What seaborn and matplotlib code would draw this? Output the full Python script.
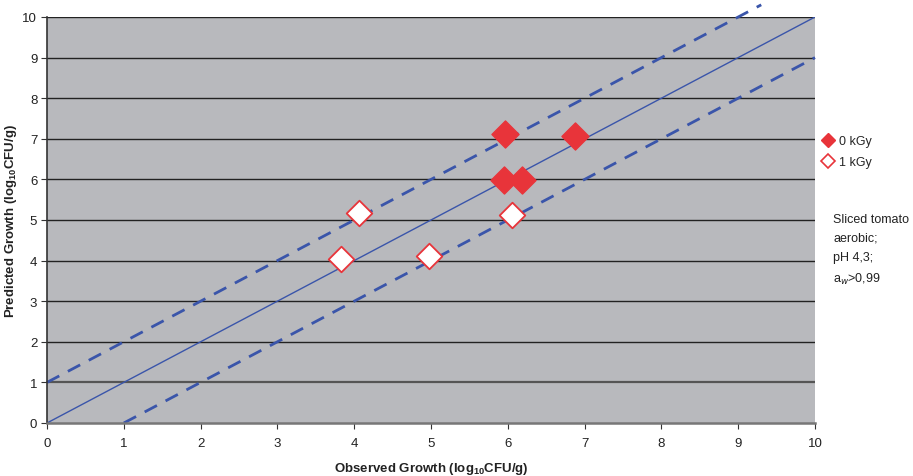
import matplotlib
matplotlib.use("Agg")
import matplotlib.pyplot as plt
import seaborn as sns
import pandas as pd
import numpy as np

# Data
obs_0kGy = [5.96, 5.95, 6.19, 6.87]
pred_0kGy = [7.12, 5.99, 5.99, 7.08]
obs_1kGy = [4.06, 3.83, 4.98, 6.05]
pred_1kGy = [5.17, 4.04, 4.12, 5.13]
line_x = [0, 10]
line_y = [0, 10]
upper_x = [0, 9.3]
upper_y = [1, 10.3]
lower_x = [1, 10]
lower_y = [0, 9]
ticks = list(range(0, 11))

sns.set_theme(style="white")
plt.rcParams['font.family'] = ['Liberation Sans', 'DejaVu Sans']
plt.rcParams['mathtext.fontset'] = 'custom'
plt.rcParams['mathtext.rm'] = 'Liberation Sans'
plt.rcParams['mathtext.bf'] = 'Liberation Sans:bold'

fig = plt.figure(figsize=(9.13, 4.77), dpi=100)
ax = fig.add_axes([47/913, 1-424/477, (815-47)/913, (424-18)/477])
ax.set_facecolor('#b8b9bd')

blue = '#3a55aa'
red = '#e8343a'

for yv in ticks[1:]:
    ax.axhline(yv, color='#222222' if yv != 1 else '#555555', lw=1.0 if yv != 1 else 1.6, zorder=1)

df_line = pd.DataFrame({'x': line_x, 'y': line_y})
sns.lineplot(data=df_line, x='x', y='y', ax=ax, color=blue, lw=1.0, zorder=2)
df_up = pd.DataFrame({'x': upper_x, 'y': upper_y})
sns.lineplot(data=df_up, x='x', y='y', ax=ax, color=blue, lw=2.0, zorder=2)
df_lo = pd.DataFrame({'x': lower_x, 'y': lower_y})
sns.lineplot(data=df_lo, x='x', y='y', ax=ax, color=blue, lw=2.0, zorder=2)
lines = ax.get_lines()
for ln in lines[-2:]:
    ln.set_dashes([5, 3.5])
    ln.set_clip_on(False)

df0 = pd.DataFrame({'x': obs_0kGy, 'y': pred_0kGy})
df1 = pd.DataFrame({'x': obs_1kGy, 'y': pred_1kGy})
sns.scatterplot(data=df0, x='x', y='y', ax=ax, marker='D', s=190, color=red,
                edgecolor=red, linewidth=1, zorder=4, clip_on=False)
sns.scatterplot(data=df1, x='x', y='y', ax=ax, marker='D', s=170, color='white',
                edgecolor=red, linewidth=1.3, zorder=4, clip_on=False)

ax.set_xlim(0, 10)
ax.set_ylim(0, 10)
ax.set_xticks(ticks)
ax.set_yticks(ticks)
ax.tick_params(axis='both', which='both', direction='out', length=4, width=0.8,
               colors='#333333', labelsize=9.5, bottom=True, left=True, pad=3)
ax.tick_params(axis='x', pad=6)
for lab in ax.get_xticklabels() + ax.get_yticklabels():
    lab.set_color('#222222')
for side in ['top', 'right']:
    ax.spines[side].set_visible(False)
ax.spines['left'].set_color('#333333')
ax.spines['left'].set_linewidth(1.2)
ax.spines['bottom'].set_color('#777777')
ax.spines['bottom'].set_linewidth(1.8)
ax.spines['bottom'].set_zorder(5)

ax.set_xlabel(r'Observed Growth (log$_{\mathbf{10}}$CFU/g)', fontsize=9.5,
              fontweight='bold', color='#222222', labelpad=8)
ax.set_ylabel(r'Predicted Growth (log$_{\mathbf{10}}$CFU/g)', fontsize=9.5,
              fontweight='bold', color='#222222')
ax.yaxis.set_label_coords(-0.037, 0.5)

# legend
from matplotlib.lines import Line2D
h0 = Line2D([], [], marker='D', ls='none', color=red, markersize=7)
h1 = Line2D([], [], marker='D', ls='none', markerfacecolor='white', markeredgecolor=red,
            markeredgewidth=1.2, markersize=7)
fig.legend([h0, h1], ['0 kGy', '1 kGy'], loc='upper left', bbox_to_anchor=(820/913, 1-136/477),
           frameon=False, fontsize=9, handletextpad=0.3, labelspacing=0.75,
           handlelength=1.2, borderpad=0, borderaxespad=0)

fig.text(833/913, 1-214/477, 'Sliced tomato\naerobic;\npH 4,3;\na$_w$>0,99',
         fontsize=9, color='#222222', va='top', ha='left', linespacing=1.75)

fig.savefig('out.png', dpi=100, facecolor='white')
